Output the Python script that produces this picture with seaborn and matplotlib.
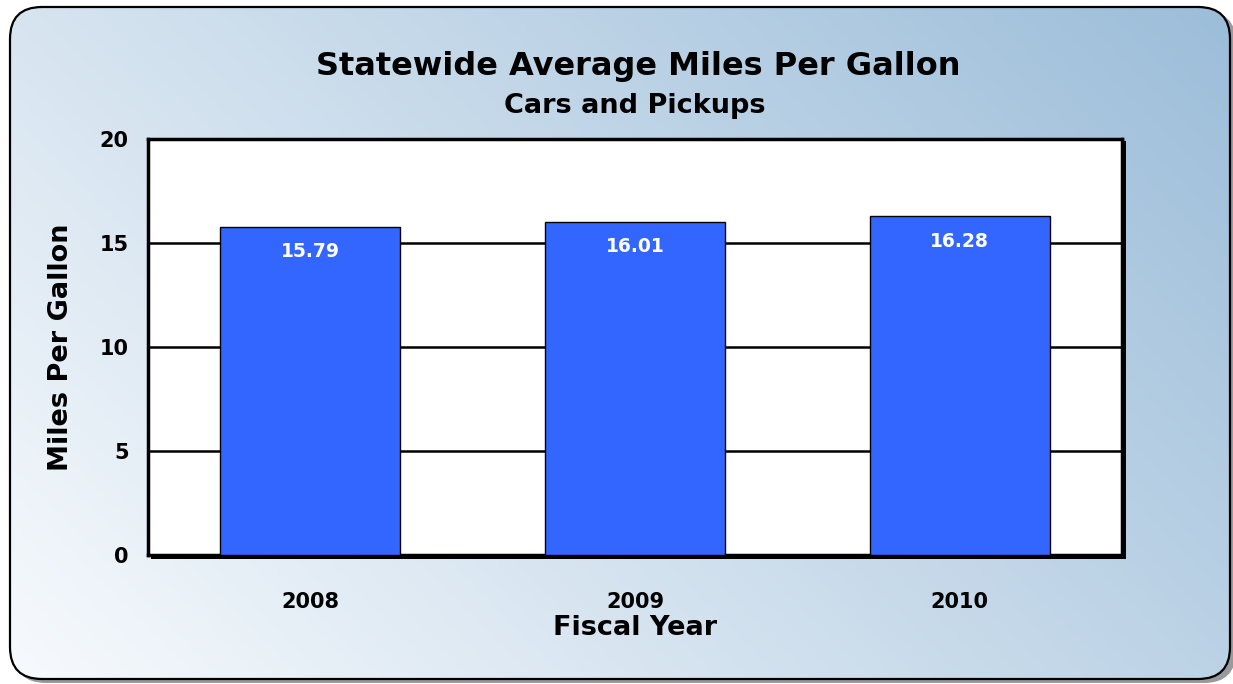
import numpy as np
import matplotlib
matplotlib.use('Agg')
import matplotlib.pyplot as plt
from matplotlib.patches import FancyBboxPatch, Rectangle
import pandas as pd
import seaborn as sns

years = ['2008', '2009', '2010']
mpg = [15.79, 16.01, 16.28]
yticks = [0, 5, 10, 15, 20]

df = pd.DataFrame({'year': years, 'mpg': mpg})

sns.set_style('white')
plt.rcParams['font.family'] = ['DejaVu Sans']
plt.rcParams['font.weight'] = 'bold'
plt.rcParams['text.color'] = 'black'
plt.rcParams['axes.labelcolor'] = 'black'
plt.rcParams['xtick.color'] = 'black'
plt.rcParams['ytick.color'] = 'black'

W, H = 1233, 684
fig = plt.figure(figsize=(W / 100, H / 100), dpi=100)

# background panel with diagonal gradient, rounded corners
bg = fig.add_axes([0, 0, 1, 1], zorder=-1)
bg.set_xlim(0, W)
bg.set_ylim(H, 0)
bg.axis('off')
xx, yy = np.meshgrid(np.linspace(0, 1, 300), np.linspace(0, 1, 200))
t = 0.65 * xx + 0.35 * (1 - yy)
light = np.array([247, 250, 253]) / 255
dark = np.array([156, 189, 217]) / 255
grad = light[None, None, :] * (1 - t[..., None]) + dark[None, None, :] * t[..., None]
shadow = FancyBboxPatch((14, 11), 1222, 672, boxstyle='round,pad=0,rounding_size=32',
                        fc='#9a9a9a', ec='none', zorder=0)
bg.add_patch(shadow)
panel = FancyBboxPatch((10, 7), 1220, 672, boxstyle='round,pad=0,rounding_size=32',
                       fc='none', ec='black', lw=1.6, zorder=3)
bg.add_patch(panel)
im = bg.imshow(grad, extent=(10, 1230, 679, 7), aspect='auto', zorder=1)
im.set_clip_path(panel)
# shadow of the plot area
bg.add_patch(Rectangle((151, 141), 975, 418, fc='black', ec='none', zorder=2))

ax = fig.add_axes([148 / W, 1 - 555 / H, (1122 - 148) / W, (555 - 139) / H])
ax.set_facecolor('white')
sns.barplot(data=df, x='year', y='mpg', color='#3366ff', width=0.555,
            edgecolor='black', linewidth=1, saturation=1, ax=ax, zorder=3)
ax.set_ylim(0, 20)
ax.set_xlim(-0.5, 2.5)
ax.set_yticks(yticks)
for v in yticks[1:-1]:
    ax.axhline(v, color='black', lw=1.8, zorder=1)
for sp in ax.spines.values():
    sp.set_visible(True)
    sp.set_color('black')
    sp.set_linewidth(2.5)

for i, v in enumerate(mpg):
    ax.text(i, v - 1.2, f'{v:.2f}', color='white', ha='center', va='center',
            fontsize=13.5, fontweight='bold', zorder=4)

ax.tick_params(axis='both', length=0, labelsize=15)
ax.tick_params(axis='y', pad=14)
ax.tick_params(axis='x', pad=27)
ax.set_xlabel('Fiscal Year', fontsize=19.5, fontweight='bold', labelpad=2)
ax.set_ylabel('Miles Per Gallon', fontsize=19.5, fontweight='bold', labelpad=18)

fig.text(0.518, 1 - 67 / H, 'Statewide Average Miles Per Gallon', ha='center', va='center',
         fontsize=23, fontweight='bold')
fig.text(0.515, 1 - 106 / H, 'Cars and Pickups', ha='center', va='center',
         fontsize=19.5, fontweight='bold')

fig.savefig('out.png', dpi=100)
